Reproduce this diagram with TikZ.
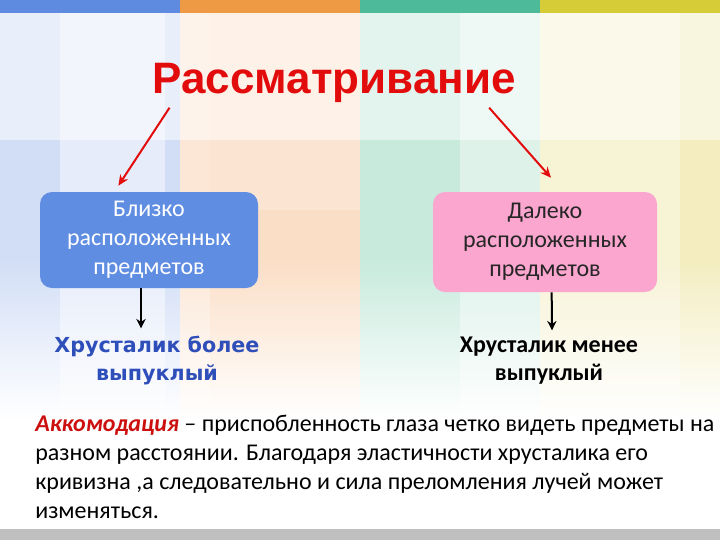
\documentclass[tikz,border=0pt]{standalone}
\usepackage{fontspec}
\setmainfont{Carlito}
\newfontfamily\titlefont{Liberation Sans}
\newfontfamily\widesans{DejaVu Sans}
\usetikzlibrary{positioning,arrows.meta}
\definecolor{stripblue}{RGB}{94,139,224}
\definecolor{striporange}{RGB}{238,154,69}
\definecolor{stripgreen}{RGB}{77,187,154}
\definecolor{stripyellow}{RGB}{214,204,55}
\definecolor{paleblue}{RGB}{210,222,246}
\definecolor{paleorange}{RGB}{251,222,198}
\definecolor{palegreen}{RGB}{200,234,221}
\definecolor{paleyellow}{RGB}{243,237,192}
\definecolor{boxblue}{RGB}{95,141,226}
\definecolor{boxpink}{RGB}{250,166,207}
\definecolor{titlered}{RGB}{226,12,12}
\definecolor{resblue}{RGB}{46,78,186}
\definecolor{accred}{RGB}{204,16,16}
\tikzset{box/.style={rounded corners=9pt, align=center, inner sep=0pt,
    font=\fontsize{18}{21.75}\selectfont},
  result/.style={align=center, inner sep=0pt},
  redarrow/.style={draw=titlered, line width=1.5pt, -{Stealth[length=8pt,width=7pt]}},
  blackarrow/.style={draw=black, line width=1.5pt, -{Stealth[length=7pt,width=7pt]}}}

\begin{document}
\begin{tikzpicture}[x=0.75pt,y=-0.75pt]
  \useasboundingbox (0,0) rectangle (720,540);
  % background columns
  \fill[white] (0,0) rectangle (720,540);
  \fill[paleblue] (0,13) rectangle (180,260);
  \fill[paleorange] (180,13) rectangle (360,260);
  \fill[palegreen] (360,13) rectangle (540,260);
  \fill[paleyellow] (540,13) rectangle (720,260);
  \shade[top color=paleblue, bottom color=white] (0,259) rectangle (180,420);
  \shade[top color=paleorange, bottom color=white] (180,259) rectangle (360,420);
  \shade[top color=palegreen, bottom color=white] (360,259) rectangle (540,420);
  \shade[top color=paleyellow, bottom color=white] (540,259) rectangle (720,420);
  \fill[white,opacity=0.45] (60,13) rectangle (165,420);
  \fill[white,opacity=0.3] (180,13) rectangle (210,420);
  \fill[white,opacity=0.2] (210,13) rectangle (360,210);
  \fill[white,opacity=0.4] (460,13) rectangle (540,420);
  \fill[white,opacity=0.35] (540,13) rectangle (680,420);
  \fill[white,opacity=0.5] (0,13) rectangle (720,140);
  \fill[stripblue] (0,0) rectangle (180,13);
  \fill[striporange] (180,0) rectangle (360,13);
  \fill[stripgreen] (360,0) rectangle (540,13);
  \fill[stripyellow] (540,0) rectangle (720,13);
  \fill[gray!50] (0,529) rectangle (720,540);

  % nodes
  \node[anchor=base, inner sep=0pt, text=titlered,
    font=\titlefont\bfseries\fontsize{33}{38}\selectfont] (title) at (334,93) {Рассматривание};
  \node[box, fill=boxblue, text=white, minimum width=163.5pt, minimum height=72pt]
    (near) at (149,240) {Близко\\расположенных\\предметов};
  \node[box, fill=boxpink, text=black!85, minimum width=168pt, minimum height=75pt]
    (far) at (545,242) {Далеко\\расположенных\\предметов};
  \node[result, text=resblue, font=\widesans\bfseries\fontsize{15.5}{21}\selectfont,
    below=36pt of near, xshift=6pt] (nearres) {Хрусталик более\\выпуклый};
  \node[result, text=black, font=\bfseries\fontsize{18}{21}\selectfont,
    below=33pt of far, xshift=3pt] (farres) {Хрусталик менее\\выпуклый};
  \node[anchor=north west, inner sep=0pt, align=left,
    font=\fontsize{18}{21.75}\selectfont] (accom) at (35,415)
    {\textcolor{accred}{\textbf{\textit{Аккомодация}}} -- приспобленность глаза четко видеть предметы на\\
     разном расстоянии. Благодаря эластичности хрусталика его\\
     кривизна ,а следовательно и сила преломления лучей может\\
     изменяться.};

  % arrows
  \draw[redarrow] ([xshift=13pt,yshift=-4pt]title.south west) -- ([xshift=-23pt,yshift=4.5pt]near.north);
  \draw[redarrow] ([xshift=-20pt,yshift=-4pt]title.south east) -- ([xshift=4.5pt,yshift=10.5pt]far.north);
  \draw[blackarrow] ([xshift=-6pt]near.south) -- ([xshift=-12pt,yshift=6pt]nearres.north);
  \draw[blackarrow] ([xshift=5pt]far.south) -- ([xshift=2.25pt,yshift=4.5pt]farres.north);
\end{tikzpicture}
\end{document}
